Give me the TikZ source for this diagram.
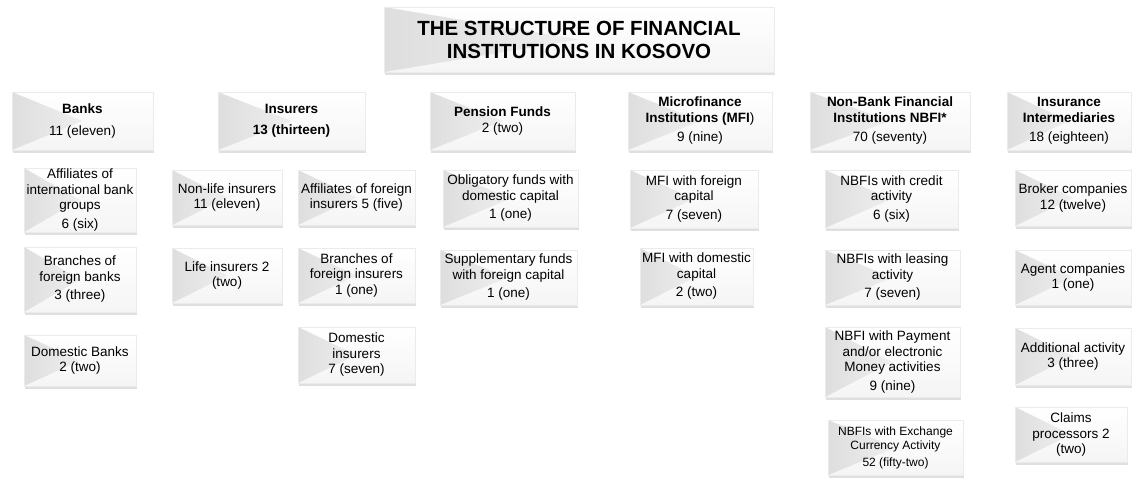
\documentclass[tikz,border=0pt]{standalone}
\usepackage{fontspec}
\setmainfont{Liberation Sans}
\usepackage{xcolor}
\usetikzlibrary{calc, shadows}
\definecolor{bevel}{HTML}{DEDEDE}
\definecolor{edge}{HTML}{EBEBEB}

\tikzset{
  fibox/.style={draw=edge, top color=white, bottom color=black!4, align=center, inner sep=1pt,
    font=\fontsize{13.5}{15.5}\selectfont,
    drop shadow={shadow xshift=1pt, shadow yshift=-3pt, opacity=0.25},
    path picture={\shade[left color=bevel, right color=white]
      (path picture bounding box.north west)
      -- ($(path picture bounding box.west)!0.5!(path picture bounding box.east)$)
      -- (path picture bounding box.south west) -- cycle;}},
  fismall/.style={font=\fontsize{12}{14}\selectfont}
}

\begin{document}
\begin{tikzpicture}[x=1pt, y=-1pt]
        \useasboundingbox (0,0) rectangle (1133,477);
        % title
        \node[fibox, minimum width=390pt, minimum height=65pt,
              font=\fontsize{20.5}{23}\selectfont\bfseries] (title) at (579,39.5)
              {THE STRUCTURE OF FINANCIAL\\INSTITUTIONS IN KOSOVO};
        % headers
        \node[fibox, minimum width=141pt, minimum height=58pt] (banks) at (82.5,121)
              {\textbf{Banks}\\[6pt]11 (eleven)};
        \node[fibox, minimum width=147pt, minimum height=58pt] (insurers) at (291.5,121)
              {\textbf{Insurers}\\[6pt]\textbf{13 (thirteen)}};
        \node[fibox, minimum width=145pt, minimum height=58pt] (pension) at (502.5,121)
              {\textbf{Pension Funds}\\2 (two)};
        \node[fibox, minimum width=144pt, minimum height=58pt] (mfi) at (700,121)
              {\textbf{Microfinance}\\\textbf{Institutions (MFI})\\[4pt]9 (nine)};
        \node[fibox, minimum width=160pt, minimum height=58pt] (nbfi) at (890,121)
              {\textbf{Non-Bank Financial}\\\textbf{Institutions NBFI*}\\[4pt]70 (seventy)};
        \node[fibox, minimum width=124pt, minimum height=58pt] (intermed) at (1069,121)
              {\textbf{Insurance}\\\textbf{Intermediaries}\\[4pt]18 (eighteen)};
        % banks
        \node[fibox, minimum width=112pt, minimum height=64pt] (bankaff) at (80,200)
              {Affiliates of\\international bank\\groups\\[3pt]6 (six)};
        \node[fibox, minimum width=112pt, minimum height=65pt] (bankbranch) at (80,279.5)
              {Branches of\\foreign banks\\[3pt]3 (three)};
        \node[fibox, minimum width=112pt, minimum height=51pt] (bankdom) at (80,360.5)
              {Domestic Banks\\2 (two)};
        % insurers
        \node[fibox, minimum width=110pt, minimum height=55pt] (nonlife) at (227,197.5)
              {Non-life insurers\\11 (eleven)};
        \node[fibox, minimum width=110pt, minimum height=55pt] (life) at (227,275.5)
              {Life insurers 2\\(two)};
        \node[fibox, minimum width=117pt, minimum height=55pt] (insaff) at (356.5,197.5)
              {Affiliates of foreign\\insurers 5 (five)};
        \node[fibox, minimum width=117pt, minimum height=55pt] (insbranch) at (356.5,275.5)
              {Branches of\\foreign insurers\\1 (one)};
        \node[fibox, minimum width=117pt, minimum height=56pt] (insdom) at (356.5,355)
              {Domestic\\insurers\\7 (seven)};
        % pension funds
        \node[fibox, minimum width=135pt, minimum height=57pt] (obligatory) at (510.5,198.5)
              {Obligatory funds with\\domestic capital\\[3pt]1 (one)};
        \node[fibox, minimum width=137pt, minimum height=55pt] (supplement) at (508.5,277.5)
              {Supplementary funds\\with foreign capital\\[3pt]1 (one)};
        % microfinance
        \node[fibox, minimum width=128pt, minimum height=58pt] (mfiforeign) at (694,199)
              {MFI with foreign\\capital\\[3pt]7 (seven)};
        \node[fibox, minimum width=113pt, minimum height=57pt] (mfidom) at (696.5,276.5)
              {MFI with domestic\\capital\\[3pt]2 (two)};
        % non-bank financial institutions
        \node[fibox, minimum width=133pt, minimum height=58pt] (credit) at (891.5,199)
              {NBFIs with credit\\activity\\[3pt]6 (six)};
        \node[fibox, minimum width=135pt, minimum height=55pt] (leasing) at (892.5,277.5)
              {NBFIs with leasing\\activity\\[3pt]7 (seven)};
        \node[fibox, minimum width=135pt, minimum height=70pt] (payment) at (892.5,362)
              {NBFI with Payment\\and/or electronic\\Money activities\\[3pt]9 (nine)};
        \node[fibox, fismall, minimum width=135pt, minimum height=55pt] (exchange) at (895.5,447.5)
              {NBFIs with Exchange\\Currency Activity\\[3pt]52 (fifty-two)};
        % insurance intermediaries
        \node[fibox, minimum width=116pt, minimum height=56pt] (broker) at (1073,198)
              {Broker companies\\12 (twelve)};
        \node[fibox, minimum width=116pt, minimum height=55pt] (agent) at (1073,277.5)
              {Agent companies\\1 (one)};
        \node[fibox, minimum width=116pt, minimum height=57pt] (additional) at (1073,356.5)
              {Additional activity\\3 (three)};
        \node[fibox, minimum width=112pt, minimum height=55pt] (claims) at (1071,434.5)
              {Claims\\processors 2\\(two)};
      \end{tikzpicture}
\end{document}
